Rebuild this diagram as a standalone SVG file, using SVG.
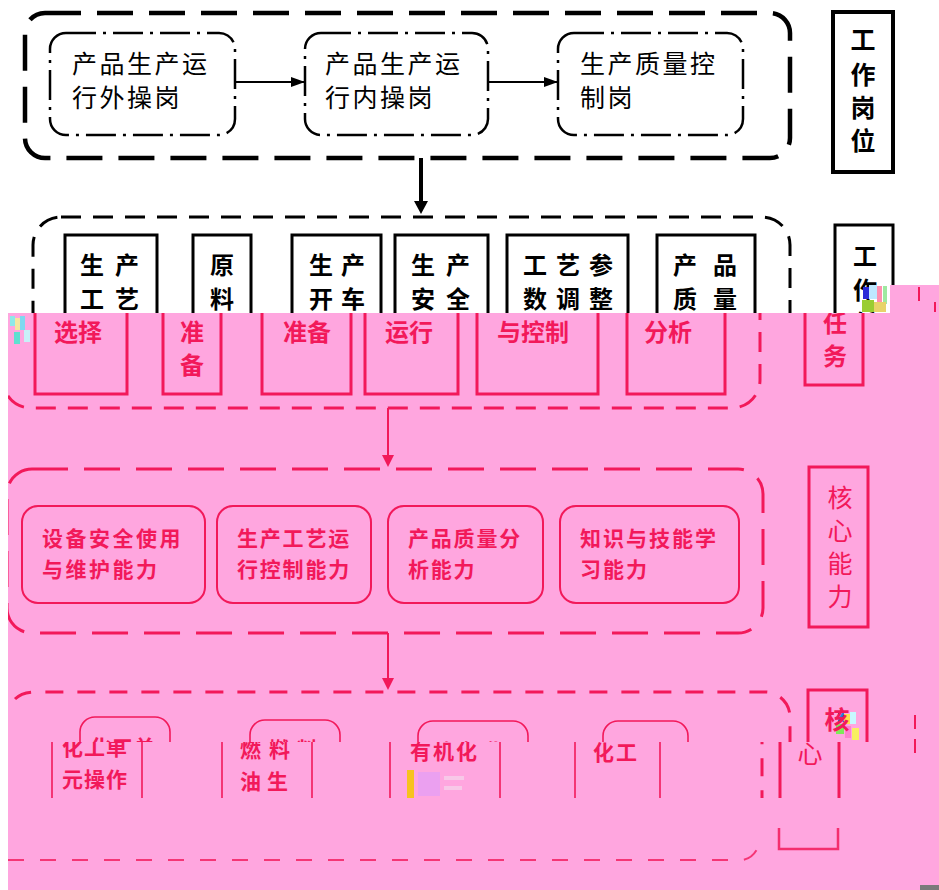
<svg xmlns="http://www.w3.org/2000/svg" width="939" height="890" viewBox="0 0 939 890">
<style>
text{font-family:'Noto Sans CJK SC','Noto Sans',sans-serif;dominant-baseline:central}
.t1{font-size:25px;fill:#000}
.b24{font-size:24px;font-weight:bold;fill:currentColor}
.bv{font-size:25px;font-weight:bold;fill:#000;text-anchor:middle}
.p21{font-size:21px;font-weight:bold;fill:#F2195A}
.pv{font-size:25px;fill:#F2195A;text-anchor:middle}
.mid{text-anchor:middle}
.dash1{fill:none;stroke:#000;stroke-width:4.5;stroke-dasharray:36 16}
.dd{fill:none;stroke:#000;stroke-width:2.5;stroke-dasharray:30 7 3 7}
.d2{fill:none;stroke:currentColor;stroke-width:3;stroke-dasharray:20 12}
.sq{fill:none;stroke:currentColor;stroke-width:3}
.ps{fill:none;stroke:#F2195A;stroke-width:2}
.pk{fill:none;stroke:#F2195A;stroke-width:3}
.pd{fill:none;stroke:#F2195A;stroke-width:3;stroke-dasharray:36 16}
.s4{fill:none;stroke:#F2195A;stroke-width:1.6}
</style>
<defs>
<marker id="ahB" viewBox="0 0 14 10" refX="14" refY="5" markerWidth="14" markerHeight="10" markerUnits="userSpaceOnUse" orient="auto"><path d="M0,0 L14,5 L0,10 z" fill="#000"/></marker>
<clipPath id="cW"><rect x="0" y="0" width="939" height="313"/></clipPath>
<clipPath id="cP"><rect x="8" y="313" width="931" height="147"/></clipPath>
<clipPath id="cPink"><rect x="8" y="313" width="931" height="577"/></clipPath>
<clipPath id="c4top"><rect x="8" y="600" width="931" height="142"/></clipPath>
<clipPath id="c4band"><rect x="8" y="742" width="931" height="56"/></clipPath>
<g id="sec2">
  <rect class="d2" x="33" y="217" width="757" height="191" rx="28"/>
  <g id="task-process">
    <rect class="sq" x="65" y="235" width="92" height="159"/>
    <text class="b24" x="80" y="263" letter-spacing="11">生产</text>
    <text class="b24" x="80" y="297" letter-spacing="11">工艺</text>
    <text class="b24 mid" x="108" y="330">选择</text>
  </g>
  <g id="task-material">
    <rect class="sq" x="193" y="235" width="58" height="159"/>
    <text class="b24 mid" x="222" y="263">原</text>
    <text class="b24 mid" x="222" y="297">料</text>
    <text class="b24 mid" x="222" y="330">准</text>
    <text class="b24 mid" x="222" y="363">备</text>
  </g>
  <g id="task-startup">
    <rect class="sq" x="292" y="235" width="89" height="159"/>
    <text class="b24" x="309" y="263" letter-spacing="8">生产</text>
    <text class="b24" x="309" y="297" letter-spacing="8">开车</text>
    <text class="b24 mid" x="337" y="330">准备</text>
  </g>
  <g id="task-safety">
    <rect class="sq" x="395" y="235" width="93" height="159"/>
    <text class="b24" x="411" y="263" letter-spacing="11">生产</text>
    <text class="b24" x="411" y="297" letter-spacing="11">安全</text>
    <text class="b24 mid" x="439" y="330">运行</text>
  </g>
  <g id="task-params">
    <rect class="sq" x="507" y="235" width="121" height="159"/>
    <text class="b24" x="523" y="263" letter-spacing="9">工艺参</text>
    <text class="b24" x="523" y="297" letter-spacing="9">数调整</text>
    <text class="b24 mid" x="563" y="330">与控制</text>
  </g>
  <g id="task-quality">
    <rect class="sq" x="657" y="235" width="98" height="159"/>
    <text class="b24" x="673" y="263" letter-spacing="16">产品</text>
    <text class="b24" x="673" y="297" letter-spacing="16">质量</text>
    <text class="b24 mid" x="698" y="330">分析</text>
  </g>
  <g id="label-tasks">
    <rect class="sq" x="835" y="225" width="58" height="160" stroke-width="4"/>
    <text class="b24 mid" x="865" y="254">工</text>
    <text class="b24 mid" x="865" y="288">作</text>
    <text class="b24 mid" x="865" y="321">任</text>
    <text class="b24 mid" x="865" y="354">务</text>
  </g>
</g>
<g id="sec4">
  <path d="M15,699 Q22,692 35,692 H765 A25,25 0 0 1 790,717 V860" fill="none" stroke="#F2195A" stroke-width="3" stroke-dasharray="18 14"/>
  <g id="skill-unit">
    <rect class="s4" x="80" y="717" width="90" height="110" rx="15"/>
    <text class="p21" x="90" y="746" letter-spacing="1">化工单</text>
    <text class="p21" x="90" y="778" letter-spacing="1">元操作</text>
  </g>
  <g id="skill-fuel">
    <rect class="s4" x="250" y="720" width="90" height="110" rx="15"/>
    <text class="p21" x="268" y="748" letter-spacing="8">燃料</text>
    <text class="p21" x="268" y="780" letter-spacing="6">油生</text>
  </g>
  <g id="skill-organic">
    <rect class="s4" x="418" y="721" width="110" height="110" rx="15"/>
    <text class="p21" x="438" y="750" letter-spacing="2">有机化</text>
  </g>
  <g id="skill-chem">
    <rect class="s4" x="603" y="721" width="85" height="110" rx="15"/>
    <text class="p21" x="621" y="751" letter-spacing="2">化工</text>
  </g>
  <g id="label-core2">
    <rect class="pk" x="808" y="690" width="59" height="159"/>
    <text class="pv" x="837" y="718" font-weight="bold">核</text>
    <text class="pv" x="838" y="752">心</text>
  </g>
</g>
</defs>

<rect width="939" height="890" fill="#fff"/>

<g id="section-posts">
  <rect class="dash1" x="25" y="13" width="765" height="145" rx="20"/>
  <g id="post-outer">
    <rect class="dd" x="50" y="33" width="185" height="102" rx="16"/>
    <text class="t1" x="72" y="62" letter-spacing="2.5">产品生产运</text>
    <text class="t1" x="72" y="96" letter-spacing="2.5">行外操岗</text>
  </g>
  <g id="post-inner">
    <rect class="dd" x="305" y="33" width="183" height="102" rx="16"/>
    <text class="t1" x="325" y="62" letter-spacing="2.5">产品生产运</text>
    <text class="t1" x="325" y="96" letter-spacing="2.5">行内操岗</text>
  </g>
  <g id="post-quality">
    <rect class="dd" x="558" y="33" width="185" height="102" rx="16"/>
    <text class="t1" x="580" y="62" letter-spacing="2.5">生产质量控</text>
    <text class="t1" x="580" y="96" letter-spacing="2.5">制岗</text>
  </g>
</g>
<g id="label-posts">
  <rect x="833" y="12" width="60" height="160" fill="none" stroke="#000" stroke-width="4"/>
  <text class="bv" x="863" y="38">工</text>
  <text class="bv" x="863" y="73">作</text>
  <text class="bv" x="863" y="106">岗</text>
  <text class="bv" x="863" y="139">位</text>
</g>

<g clip-path="url(#cW)" style="color:#000"><use href="#sec2"/></g>

<g id="connectors-top">
  <line x1="235" y1="82" x2="305" y2="82" stroke="#000" stroke-width="2" marker-end="url(#ahB)"/>
  <line x1="488" y1="82" x2="558" y2="82" stroke="#000" stroke-width="2" marker-end="url(#ahB)"/>
  <line x1="421" y1="158" x2="421" y2="203" stroke="#000" stroke-width="4"/>
  <polygon points="414,201 428,201 421,214" fill="#000"/>
</g>

<rect x="8" y="313" width="931" height="577" fill="#FFA6DF"/>
<rect x="890" y="285" width="49" height="28" fill="#FFA6DF"/>
<g id="glitch">
  <rect x="863" y="287" width="6" height="12" fill="#2a2ad8"/>
  <rect x="869" y="285" width="8" height="14" fill="#bfe8ff"/>
  <rect x="877" y="286" width="5" height="16" fill="#ff8fb0"/>
  <rect x="883" y="286" width="4" height="18" fill="#9ee9a0"/>
  <rect x="862" y="300" width="12" height="12" fill="#9acd32"/>
  <rect x="874" y="302" width="12" height="10" fill="#e8d36a"/>
  <rect x="918" y="287" width="2" height="14" fill="#F2195A"/>
  <rect x="934" y="302" width="2" height="10" fill="#F2195A"/>
  <rect x="10" y="316" width="5" height="10" fill="#8fe8e8"/>
  <rect x="15" y="318" width="5" height="12" fill="#f5e6a0"/>
  <rect x="20" y="316" width="5" height="14" fill="#7fd8f0"/>
  <rect x="14" y="332" width="6" height="12" fill="#5fe0d0"/>
  <rect x="24" y="330" width="6" height="12" fill="#c8f0f8"/>
  <rect x="407" y="770" width="7" height="28" fill="#F7C21E"/>
  <rect x="418" y="772" width="22" height="24" fill="#EBA0F0"/>
  <rect x="444" y="776" width="20" height="4" fill="#F8C8E8"/>
  <rect x="444" y="786" width="18" height="4" fill="#F8C8E8"/>
  <rect x="838" y="712" width="6" height="10" fill="#2e7bd8"/>
  <rect x="844" y="714" width="6" height="10" fill="#ffe14a"/>
  <rect x="850" y="712" width="6" height="12" fill="#c8f8ff"/>
  <rect x="836" y="724" width="8" height="10" fill="#7ee85a"/>
  <rect x="845" y="726" width="6" height="12" fill="#ff7fd0"/>
  <rect x="852" y="728" width="7" height="12" fill="#f8f060"/>
  <rect x="920" y="885" width="19" height="5" fill="#7a7a7a"/>
</g>

<g clip-path="url(#cP)" style="color:#F2195A"><use href="#sec2" transform="translate(-30,0)"/></g>

<g id="connectors-pink">
  <line x1="388" y1="408" x2="388" y2="456" stroke="#F2195A" stroke-width="2"/>
  <polygon points="382,455 394,455 388,467" fill="#F2195A"/>
  <line x1="388" y1="633" x2="388" y2="679" stroke="#F2195A" stroke-width="2"/>
  <polygon points="382,678 394,678 388,690" fill="#F2195A"/>
</g>

<g clip-path="url(#cPink)">
  <rect class="pd" x="7" y="469" width="756" height="164" rx="25"/>
</g>
<g id="ability-equipment">
  <rect class="ps" x="22" y="506" width="183" height="97" rx="16"/>
  <text class="p21" x="42" y="537" letter-spacing="2.5">设备安全使用</text>
  <text class="p21" x="42" y="568" letter-spacing="2.5">与维护能力</text>
</g>
<g id="ability-process">
  <rect class="ps" x="217" y="506" width="154" height="97" rx="16"/>
  <text class="p21" x="237" y="537" letter-spacing="1.8">生产工艺运</text>
  <text class="p21" x="237" y="568" letter-spacing="1.8">行控制能力</text>
</g>
<g id="ability-quality">
  <rect class="ps" x="388" y="506" width="155" height="97" rx="16"/>
  <text class="p21" x="408" y="537" letter-spacing="1.8">产品质量分</text>
  <text class="p21" x="408" y="568" letter-spacing="1.8">析能力</text>
</g>
<g id="ability-learning">
  <rect class="ps" x="560" y="506" width="179" height="97" rx="16"/>
  <text class="p21" x="580" y="537" letter-spacing="2">知识与技能学</text>
  <text class="p21" x="580" y="568" letter-spacing="2">习能力</text>
</g>
<g id="label-core">
  <rect class="pk" x="809" y="467" width="59" height="160"/>
  <text class="pv" x="840" y="496">核</text>
  <text class="pv" x="840" y="529">心</text>
  <text class="pv" x="840" y="562">能</text>
  <text class="pv" x="840" y="595">力</text>
</g>

<g clip-path="url(#c4top)"><use href="#sec4"/></g>
<g clip-path="url(#c4band)"><use href="#sec4" transform="translate(-28,0)"/></g>
<g id="section4-bottom">
  <path d="M8,860 H742 A20,23 0 0 0 760,837" fill="none" stroke="#F2195A" stroke-width="2" stroke-dasharray="16 16" opacity="0.8"/>
  <path d="M779,828 V849 H838 V828" fill="none" stroke="#F2195A" stroke-width="2.5" opacity="0.85"/>
  <line x1="915" y1="715" x2="915" y2="760" stroke="#F2195A" stroke-width="2" stroke-dasharray="14 10"/>
</g>
</svg>
